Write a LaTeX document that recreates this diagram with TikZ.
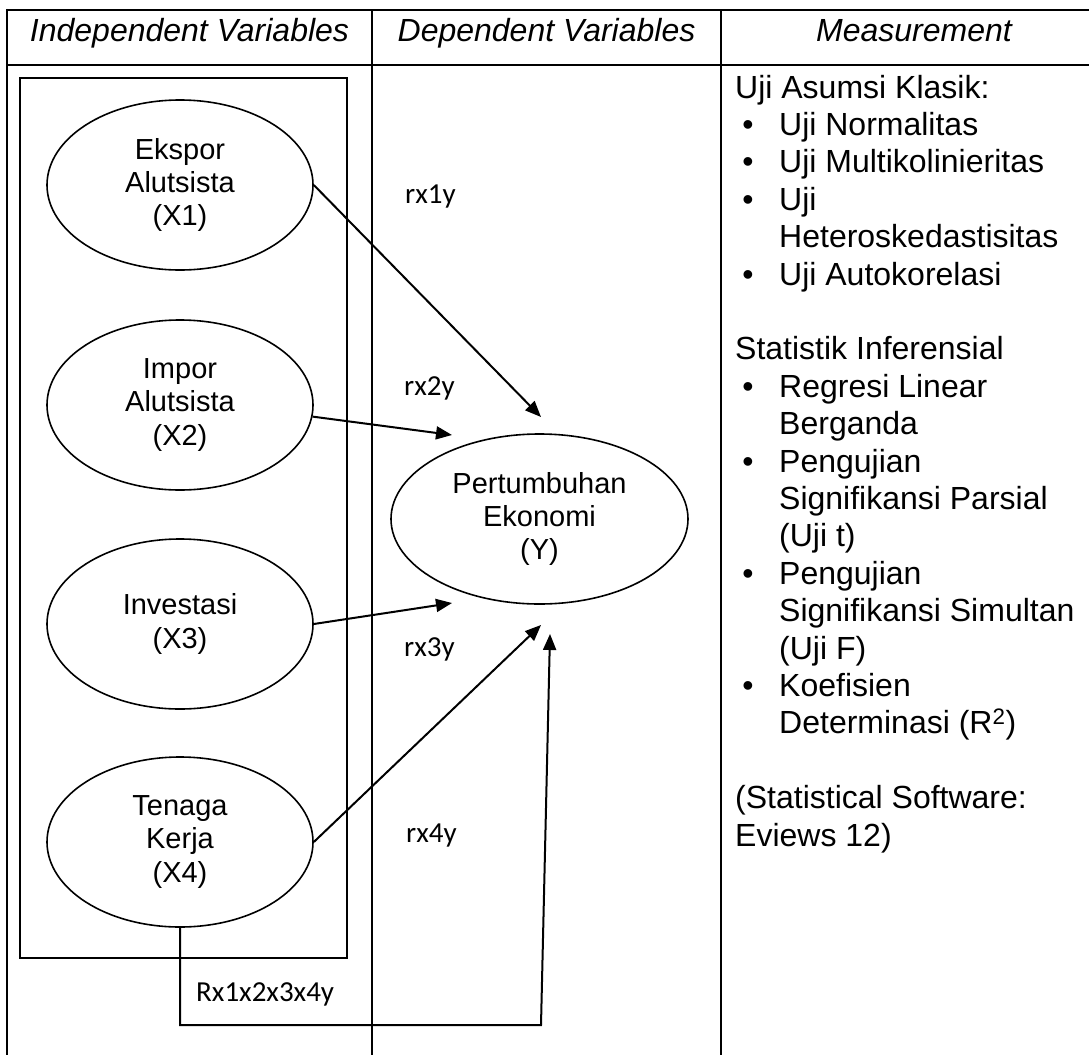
\documentclass[tikz,border=0pt]{standalone}
\usepackage{fontspec}
\setmainfont{Liberation Sans}
\newfontfamily\calfont{Carlito}
\usetikzlibrary{shapes.geometric,arrows.meta}
\begin{document}
\begin{tikzpicture}[x=1pt,y=-1pt,
  grid/.style={line width=2.4pt},
  frame/.style={line width=2pt},
  var/.style={ellipse,draw,line width=1.6pt,minimum width=266pt,minimum height=170pt,inner sep=0pt,align=center,font=\fontsize{29}{33.3}\selectfont},
  conn/.style={line width=2pt,-{Triangle[length=16pt,width=13pt]}},
  coef/.style={anchor=base west,inner sep=0pt,font=\calfont\fontsize{29}{35}\selectfont},
  head/.style={anchor=base,inner sep=0pt,font=\fontsize{32}{37}\selectfont\itshape},
  body/.style={anchor=base west,inner sep=0pt,font=\fontsize{32}{37}\selectfont},
  bul/.style={anchor=base,inner sep=0pt,font=\fontsize{32}{37}\selectfont}]
\useasboundingbox (0,0) rectangle (1089,1055);
% table
\draw[grid] (7,10) -- (1089,10);
\draw[grid] (7,65) -- (1089,65);
\draw[grid] (7,8.8) -- (7,1055);
\draw[grid] (372,10) -- (372,1055);
\draw[grid] (721,10) -- (721,1055);
% headers
\node[head] (h1) at (189.5,41) {Independent Variables};
\node[head] (h2) at (546.5,41) {Dependent Variables};
\node[head] (h3) at (914,41) {Measurement};
% inner frame
\draw[frame] (20,78) rectangle (347,958);
% variables
\node[var] (X1) at (180,185) {Ekspor\\Alutsista\\(X1)};
\node[var] (X2) at (180,405) {Impor\\Alutsista\\(X2)};
\node[var] (X3) at (180,624) {Investasi\\(X3)};
\node[var] (X4) at (180,842) {Tenaga\\Kerja\\(X4)};
\node[var,minimum width=297pt] (Y) at (539.5,519) {Pertumbuhan\\Ekonomi\\(Y)};
% arrow end points
\coordinate (t1) at (541,417);
\coordinate (t2) at (452,435);
\coordinate (t3) at (452,603);
\coordinate (t4) at (541,625);
\coordinate (t5) at (550,634);
\coordinate (b) at (541,1025);
\draw[conn] (X1.east) -- (t1);
\draw[conn] (X2.-5) -- (t2);
\draw[conn] (X3.east) -- (t3);
\draw[conn] (X4.east) -- (t4);
\draw[conn] (X4.south) |- (b) -- (t5);
% coefficient labels
\node[coef] (r1) at (405,203) {rx1y};
\node[coef] (r2) at (404,395) {rx2y};
\node[coef] (r3) at (404,656) {rx3y};
\node[coef] (r4) at (406,842) {rx4y};
\node[coef] (r5) at (196,1001) {Rx1x2x3x4y};
% measurement column
\node[body] (m0) at (735,98) {Uji Asumsi Klasik:};
\node[bul] (b1) at (748,135.4) {•};
\node[body] (m1) at (779,135.4) {Uji Normalitas};
\node[bul] (b2) at (748,172.8) {•};
\node[body] (m2) at (779,172.8) {Uji Multikolinieritas};
\node[bul] (b3) at (748,210.2) {•};
\node[body] (m3) at (779,210.2) {Uji};
\node[body] (m4) at (779,247.6) {Heteroskedastisitas};
\node[bul] (b5) at (748,285.0) {•};
\node[body] (m5) at (779,285.0) {Uji Autokorelasi};
\node[body] (m7) at (735,359.8) {Statistik Inferensial};
\node[bul] (b8) at (748,397.2) {•};
\node[body] (m8) at (779,397.2) {Regresi Linear};
\node[body] (m9) at (779,434.6) {Berganda};
\node[bul] (b10) at (748,472.0) {•};
\node[body] (m10) at (779,472.0) {Pengujian};
\node[body] (m11) at (779,509.4) {Signifikansi Parsial};
\node[body] (m12) at (779,546.8) {(Uji t)};
\node[bul] (b13) at (748,584.2) {•};
\node[body] (m13) at (779,584.2) {Pengujian};
\node[body] (m14) at (779,621.6) {Signifikansi Simultan};
\node[body] (m15) at (779,659.0) {(Uji F)};
\node[bul] (b16) at (748,696.4) {•};
\node[body] (m16) at (779,696.4) {Koefisien};
\node[body] (m17) at (779,733.8) {Determinasi (R\textsuperscript{2})};
\node[body] (m19) at (735,808.6) {(Statistical Software:};
\node[body] (m20) at (735,846.0) {Eviews 12)};
\end{tikzpicture}
\end{document}
